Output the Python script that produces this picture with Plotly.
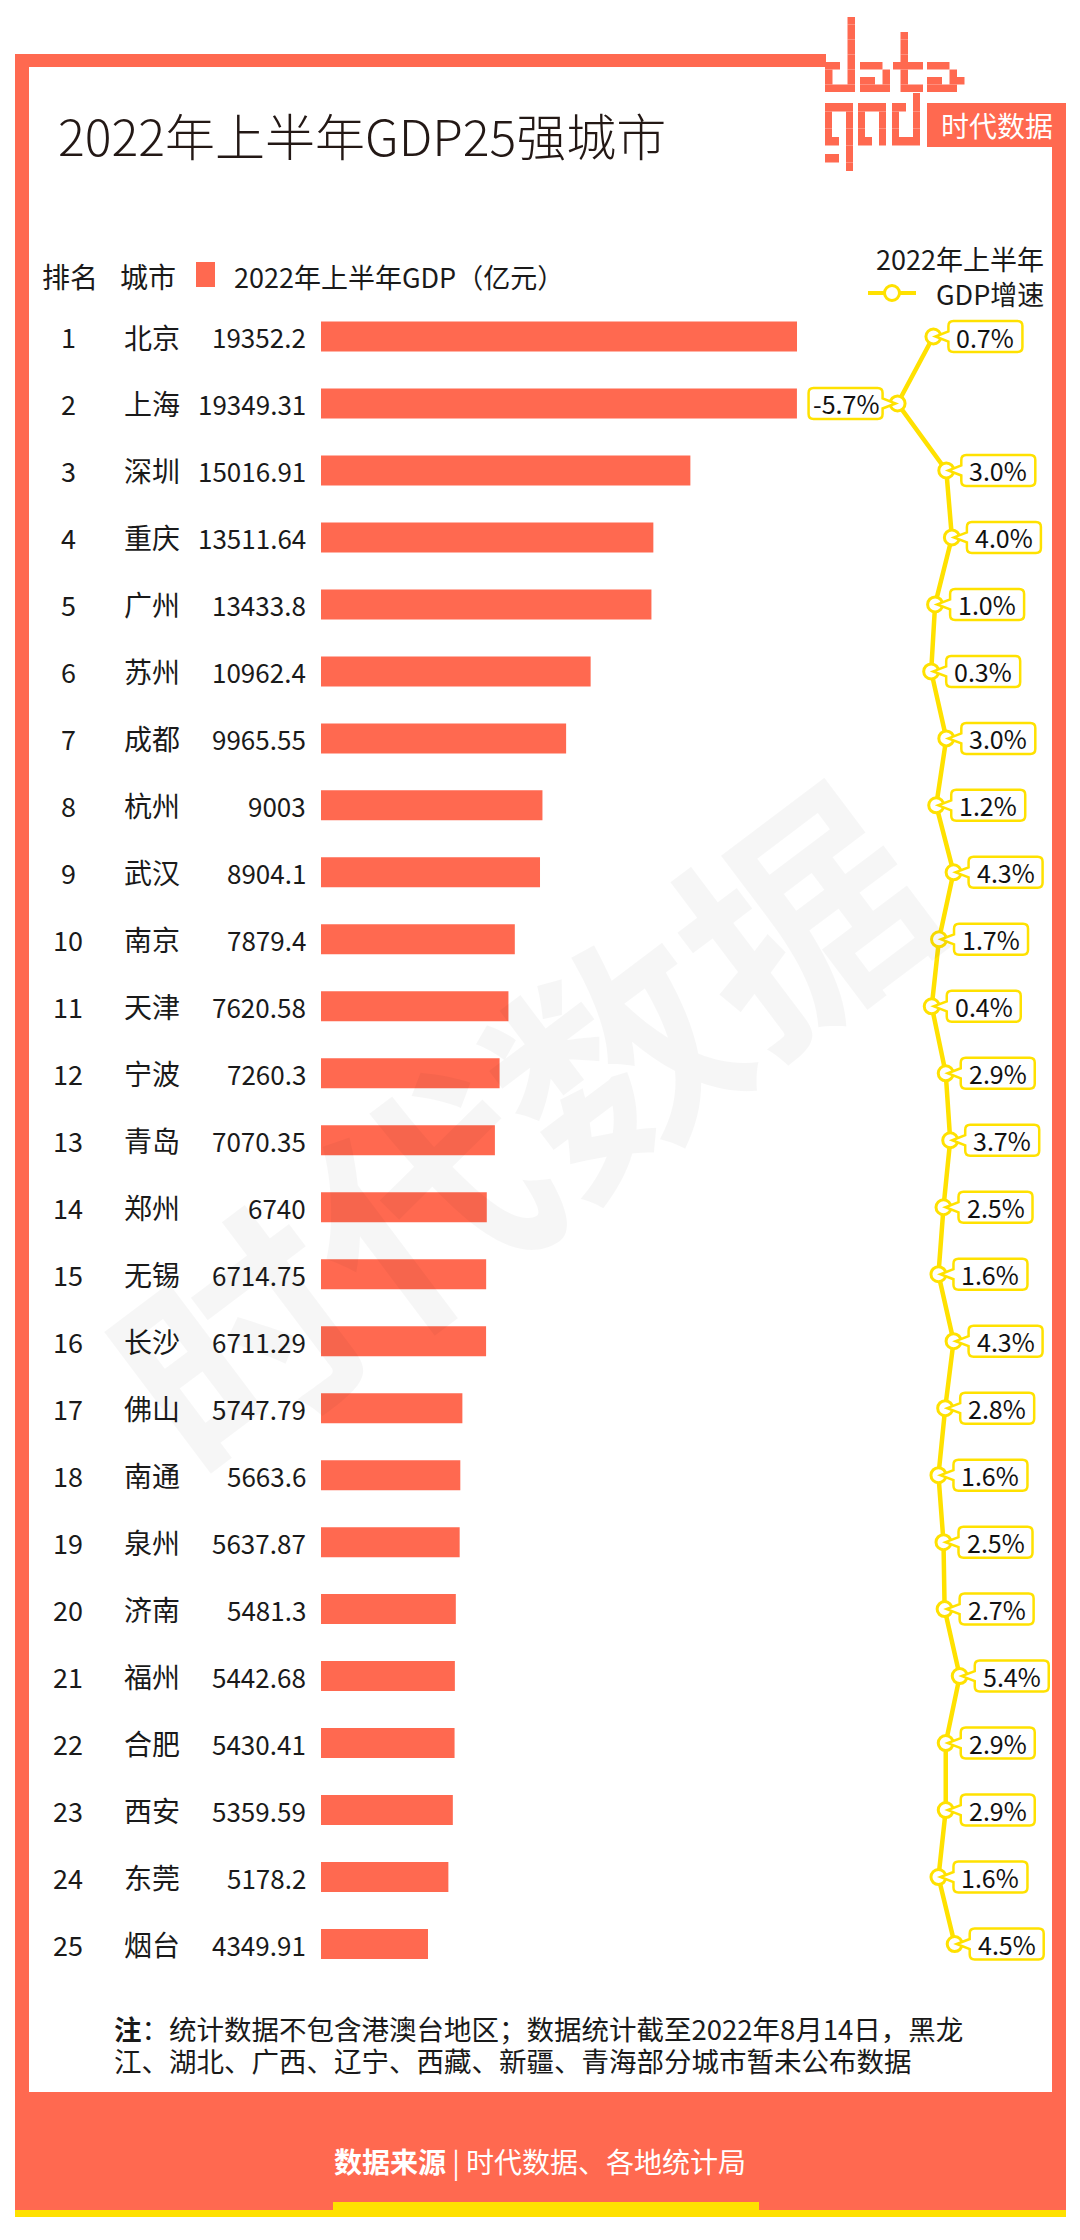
import plotly.graph_objects as go

# ---------------- data ----------------
ranks = list(range(1, 26))
cities = ["北京", "上海", "深圳", "重庆", "广州", "苏州", "成都", "杭州", "武汉", "南京",
          "天津", "宁波", "青岛", "郑州", "无锡", "长沙", "佛山", "南通", "泉州", "济南",
          "福州", "合肥", "西安", "东莞", "烟台"]
gdp_labels = ["19352.2", "19349.31", "15016.91", "13511.64", "13433.8", "10962.4", "9965.55",
              "9003", "8904.1", "7879.4", "7620.58", "7260.3", "7070.35", "6740", "6714.75",
              "6711.29", "5747.79", "5663.6", "5637.87", "5481.3", "5442.68", "5430.41",
              "5359.59", "5178.2", "4349.91"]
gdp = [float(v) for v in gdp_labels]
growth = [0.7, -5.7, 3.0, 4.0, 1.0, 0.3, 3.0, 1.2, 4.3, 1.7, 0.4, 2.9, 3.7, 2.5, 1.6,
          4.3, 2.8, 1.6, 2.5, 2.7, 5.4, 2.9, 2.9, 1.6, 4.5]
growth_labels = [f"{g:.1f}%" for g in growth]

title_text = "2022年上半年GDP25强城市"
legend_bar = "2022年上半年GDP（亿元）"
note_line1 = "<b>注</b>：统计数据不包含港澳台地区；数据统计截至2022年8月14日，黑龙"
note_line2 = "江、湖北、广西、辽宁、西藏、新疆、青海部分城市暂未公布数据"
source_text = "<b>数据来源</b> | 时代数据、各地统计局"

# ---------------- style ----------------
W, H = 1080, 2240
CORAL = "#FF6950"
YEL = "#FFE100"
INK = "#1a1a1a"
CJK = "Noto Sans CJK SC"


def px(x):
    return x / W


def py(y):
    return 1 - y / H


shapes = []


def rect(x0, y0, x1, y1, color, layer="above"):
    shapes.append(dict(type="rect", xref="paper", yref="paper",
                       x0=px(x0), x1=px(x1), y0=py(y1), y1=py(y0),
                       fillcolor=color, line=dict(width=0), layer=layer))


# frame
rect(15, 54, 826, 67, CORAL)
rect(15, 54, 29, 2217, CORAL)
rect(1052, 110, 1066, 2217, CORAL)
rect(15, 2092, 1066, 2210, CORAL)
rect(15, 2210, 1066, 2217, YEL)
rect(333, 2202, 759, 2217, YEL)

# logo: blocky letters "data" / "god" + box
DATA_GLYPHS = {
    "d": ["...#", "...#", "...#", "...#", "...#", "...#", "##.#", "#..#", "#..#", "####"],
    "a": ["....", "....", "....", "....", "....", "....", "###.", "...#", "##.#", "####"],
    "t": ["....", "....", ".#..", ".#..", ".#..", ".#..", "####", ".#..", ".#..", ".###"],
    "A": ["....", "....", "....", "....", "....", "....", "###.", "...#", "##.##", "####"],
}
GOOD_GLYPHS = {
    "g": ["####", "#..#", "#..#", "#..#", "##.#", "...#", "##.#", "...#"],
    "o": ["####", "#..#", "#..#", "#..#", "##.#"],
    "d": ["##.#", "#..#", "#..#", "#..#", "####"],
}


def draw_word(word, glyphs, xs, y0, cw, ch):
    for ch_, x0 in zip(word, xs):
        for r, row in enumerate(glyphs[ch_]):
            c = 0
            while c < len(row):
                if row[c] == "#":
                    c2 = c
                    while c2 < len(row) and row[c2] == "#":
                        c2 += 1
                    rect(x0 + c * cw, y0 + r * ch, x0 + c2 * cw, y0 + (r + 1) * ch, CORAL)
                    c = c2
                else:
                    c += 1


draw_word("datA", DATA_GLYPHS, [825, 860, 893, 927], 17, 7.5, 7.5)
draw_word("god", GOOD_GLYPHS, [825, 858, 892], 103, 7, 8.5)
rect(913, 93, 920, 103, CORAL)
rect(927, 103, 1066, 147, CORAL)

# legend marks
rect(196, 262, 215, 287, CORAL)
shapes.append(dict(type="line", xref="paper", yref="paper", x0=px(868), x1=px(916),
                   y0=py(293), y1=py(293), line=dict(color=YEL, width=4)))
shapes.append(dict(type="circle", xref="paper", yref="paper", x0=px(884.5), x1=px(899.5),
                   y0=py(300.5), y1=py(285.5), fillcolor="white", line=dict(color=YEL, width=3)))

# callout boxes for growth labels (pixel sized, anchored on each point)
BW, BH, GAP, R = 74, 31, 15, 5
for g, r in zip(growth, ranks):
    s = 1 if g >= 0 else -1
    h = BH / 2
    xa, xb = s * GAP, s * (GAP + BW)
    rr = s * R
    path = (f"M {xa},5 L {xa},{h - R} Q {xa},{h} {xa + rr},{h} L {xb - rr},{h} "
            f"Q {xb},{h} {xb},{h - R} L {xb},{-h + R} Q {xb},{-h} {xb - rr},{-h} "
            f"L {xa + rr},{-h} Q {xa},{-h} {xa},{-h + R} L {xa},-5 L {s * 2},0 Z")
    shapes.append(dict(type="path", xref="x2", yref="y", xsizemode="pixel", ysizemode="pixel",
                       xanchor=g, yanchor=r, path=path, fillcolor="white",
                       line=dict(color=YEL, width=2.5), layer="above"))

# ---------------- traces ----------------
fig = go.Figure()
fig.add_trace(go.Bar(x=gdp, y=ranks, orientation="h", marker=dict(color=CORAL, line=dict(width=0)),
                     width=0.448, xaxis="x", yaxis="y", hoverinfo="skip"))
fig.add_trace(go.Scatter(x=growth, y=ranks, mode="lines+markers", xaxis="x2", yaxis="y",
                         line=dict(color=YEL, width=4.5),
                         marker=dict(size=15, color="white", line=dict(color=YEL, width=3)),
                         hoverinfo="skip"))

# ---------------- annotations ----------------
ann = []


def text(x, y, t, size, color=INK, anchor="left", family=CJK, weight=None, yanchor="middle"):
    f = dict(size=size, color=color, family=family)
    if weight:
        f["weight"] = weight
    ann.append(dict(xref="paper", yref="paper", x=px(x), y=py(y), text=t, showarrow=False,
                    xanchor=anchor, yanchor=yanchor, font=f))


text(56, 134, title_text, 50, color="#231815", weight=300)
text(997, 125, "时代数据", 28, color="white", anchor="center")

text(70, 276, "排名", 28, anchor="center")
text(118, 276, "城市", 28)
text(232, 276, legend_bar, 27)
text(1046, 258, "2022年上半年", 27, anchor="right")
text(1046, 293, "GDP增速", 27, anchor="right")

for r, c, v in zip(ranks, cities, gdp_labels):
    ann.append(dict(xref="paper", yref="y", x=px(68), y=r, text=str(r), showarrow=False,
                    xanchor="center", font=dict(size=27, color=INK, family=CJK)))
    ann.append(dict(xref="paper", yref="y", x=px(122), y=r, text=c, showarrow=False,
                    xanchor="left", font=dict(size=28, color=INK, family=CJK)))
    ann.append(dict(xref="paper", yref="y", x=px(308), y=r, text=v, showarrow=False,
                    xanchor="right", font=dict(size=26, color=INK, family=CJK)))

for g, r, lab in zip(growth, ranks, growth_labels):
    s = 1 if g >= 0 else -1
    ann.append(dict(xref="x2", yref="y", x=g, y=r, text=lab, showarrow=False,
                    xanchor="center", xshift=s * (GAP + BW / 2), yshift=0,
                    font=dict(size=25, color="#111111", family=CJK)))

text(112, 2028, note_line1, 27.5)
text(112, 2060, note_line2, 27.5)
text(540, 2161, source_text, 28, color="white", anchor="center")

# watermark
ann.append(dict(xref="paper", yref="paper", x=px(514), y=py(1121), text="<b>时代数据</b>",
                showarrow=False, textangle=-37, xanchor="center", yanchor="middle",
                font=dict(size=235, color="rgba(0,0,0,0.035)", family=CJK)))

# ---------------- layout ----------------
K = 0.024597          # px per 亿元
X0 = 321              # bar base pixel
G0, GK = 929.5, 5.6   # growth axis zero pixel, px per %
ROW0, ROWH = 336.5, 66.98

fig.update_layout(
    width=W, height=H, margin=dict(l=0, r=0, t=0, b=0),
    paper_bgcolor="white", plot_bgcolor="rgba(0,0,0,0)", showlegend=False,
    xaxis=dict(domain=[0, 1], range=[-X0 / K, (W - X0) / K], visible=False, fixedrange=True),
    xaxis2=dict(overlaying="x", range=[-G0 / GK, (W - G0) / GK], visible=False, fixedrange=True),
    yaxis=dict(domain=[0, 1], range=[1 - ROW0 / ROWH + H / ROWH, 1 - ROW0 / ROWH],
               visible=False, fixedrange=True),
    shapes=shapes, annotations=ann,
)

fig.write_html("out.html", config={"displayModeBar": False},
               post_script="document.body.style.margin='0';document.body.style.padding='0';")
